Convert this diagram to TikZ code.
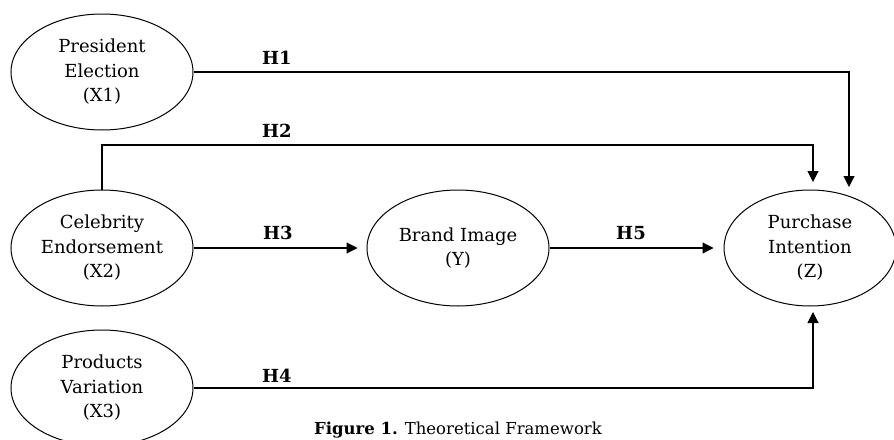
\documentclass[tikz,border=0pt]{standalone}
\usepackage{fontspec}
\setmainfont{DejaVu Serif}
\usetikzlibrary{shapes.geometric,arrows.meta}
\begin{document}
\begin{tikzpicture}[x=1pt,y=-1pt,
  var/.style={draw,ellipse,line width=1pt,minimum width=182pt,minimum height=116pt,inner sep=0pt,align=center,font=\fontsize{18}{24.5}\selectfont},
  arr/.style={line width=1.1pt,-{Triangle[length=11pt,width=11pt]}},
  hlab/.style={font=\fontsize{18}{20}\selectfont\bfseries,inner sep=0pt}]
\useasboundingbox (0,0) rectangle (894,439);
\node[var] (x1) at (102,72) {President\\Election\\(X1)};
\node[var] (x2) at (102,248) {Celebrity\\Endorsement\\(X2)};
\node[var] (x3) at (102,388) {Products\\Variation\\(X3)};
\node[var] (y) at (458,248) {Brand Image\\(Y)};
\node[var,minimum width=172pt] (z) at (810,248) {Purchase\\Intention\\(Z)};
\coordinate (h1end) at (849,187);
\coordinate (h2end) at (813,182);
\coordinate (h4end) at (813,312);
\coordinate (h2top) at (102,145);
\draw[arr] (x1.east) -| (h1end);
\draw[arr] (x2.north) -- (h2top) -| (h2end);
\draw[arr,shorten >=9pt] (x2.east) -- (y.west);
\draw[arr,shorten >=10pt] (y.east) -- (z.west);
\draw[arr] (x3.east) -| (h4end);
\node[hlab] (l1) at (277,58) {H1};
\node[hlab] (l2) at (277,131) {H2};
\node[hlab] (l3) at (278,233) {H3};
\node[hlab] (l5) at (631,233) {H5};
\node[hlab] (l4) at (277,376) {H4};
\node[anchor=base,inner sep=0pt,font=\fontsize{16.5}{18}\selectfont] (cap) at (458,434) {\textbf{Figure 1.} Theoretical Framework};
\end{tikzpicture}
\end{document}
